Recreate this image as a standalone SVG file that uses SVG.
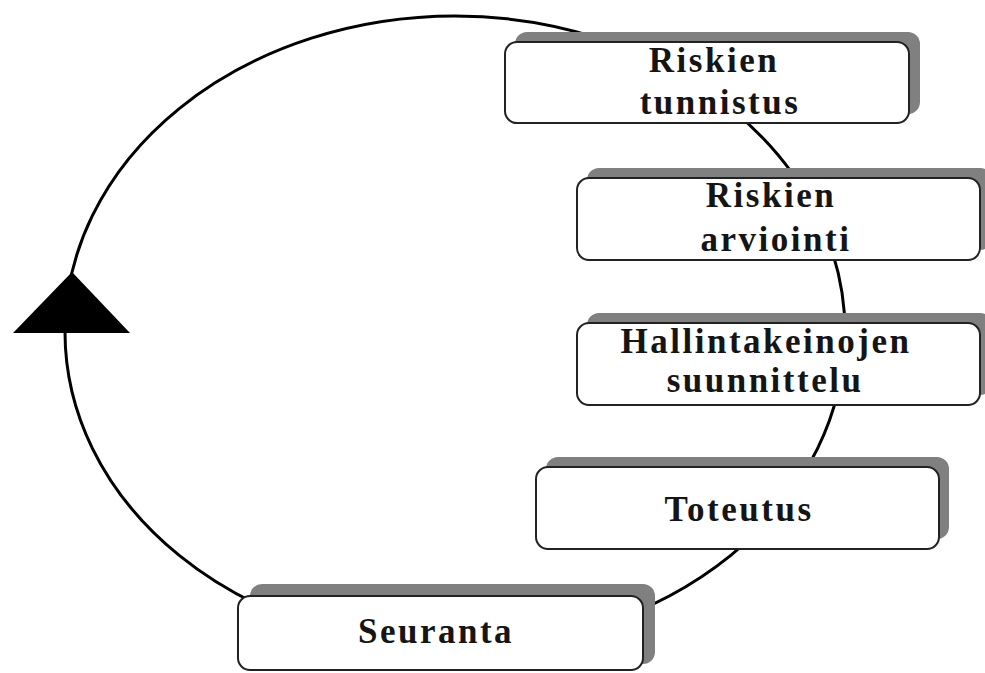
<svg xmlns="http://www.w3.org/2000/svg" width="985" height="673" viewBox="0 0 985 673">
<style>
.shadow{fill:#808080;}
.box{fill:#ffffff;stroke:#222222;stroke-width:2;}
.lbl{font-family:"Liberation Serif","Times New Roman",serif;font-weight:bold;font-size:35px;letter-spacing:2.5px;fill:#151515;text-anchor:middle;}
</style>
<rect width="985" height="673" fill="#ffffff"/>
<g id="connectors">
<ellipse cx="455" cy="332" rx="390" ry="316" fill="none" stroke="#000" stroke-width="3"/>
<polygon points="72,272 13,333 130,333" fill="#000"/>
</g>
<g id="node-tunnistus">
<rect class="shadow" x="515" y="32" width="405" height="82" rx="12"/>
<rect class="box" x="505" y="42" width="404" height="81" rx="12"/>
<text class="lbl" x="714" y="72">Riskien</text>
<text class="lbl" x="720" y="114">tunnistus</text>
</g>
<g id="node-arviointi">
<rect class="shadow" x="587" y="168" width="405" height="82" rx="12"/>
<rect class="box" x="577" y="178" width="403" height="82" rx="12"/>
<text class="lbl" x="771" y="207">Riskien</text>
<text class="lbl" x="776" y="251">arviointi</text>
</g>
<g id="node-suunnittelu">
<rect class="shadow" x="587" y="313" width="405" height="82" rx="12"/>
<rect class="box" x="577" y="323" width="403" height="82" rx="12"/>
<text class="lbl" x="766" y="353">Hallintakeinojen</text>
<text class="lbl" x="765" y="392">suunnittelu</text>
</g>
<g id="node-toteutus">
<rect class="shadow" x="546" y="457" width="403" height="82" rx="12"/>
<rect class="box" x="536" y="467" width="403" height="82" rx="12"/>
<text class="lbl" x="739" y="521">Toteutus</text>
</g>
<g id="node-seuranta">
<rect class="shadow" x="250" y="584" width="405" height="80" rx="12"/>
<rect class="box" x="238" y="596" width="405" height="74" rx="12"/>
<text class="lbl" x="436" y="643">Seuranta</text>
</g>
</svg>
